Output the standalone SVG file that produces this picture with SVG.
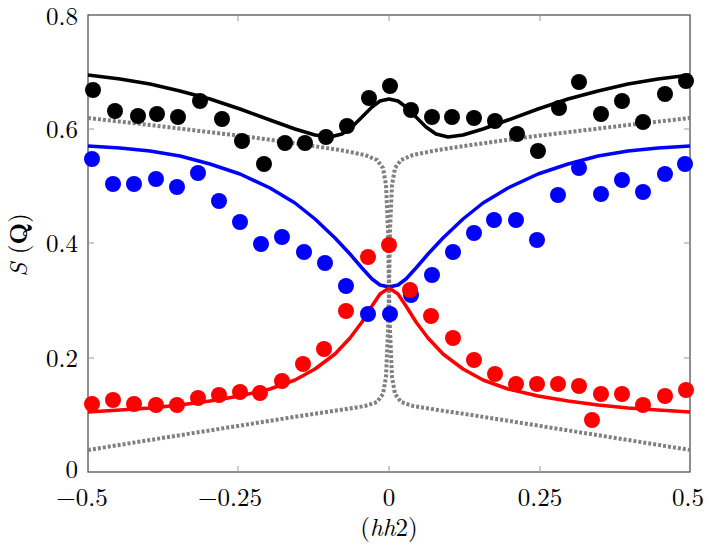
<svg xmlns="http://www.w3.org/2000/svg" width="712" height="547" viewBox="0 0 712 547">
<style>
.t{font-family:"Latin Modern Roman","Liberation Serif",serif;font-size:25px;fill:#000}
.c{fill:none;stroke-width:3.5;stroke-linejoin:round}
.g{fill:none;stroke:#808080;stroke-width:4;stroke-dasharray:3,2}
.tk{stroke:#999;stroke-width:1}
</style>
<rect width="712" height="547" fill="#fff"/>
<g id="axes">
<rect x="88" y="15" width="602" height="457" fill="none" stroke="#444" stroke-width="1.2"/>
<path class="tk" d="M238 472v-6M389 472v-6M540 472v-6M238 15v6M389 15v6M540 15v6M88 358h6M88 243h6M88 129h6M690 358h-6M690 243h-6M690 129h-6"/>
<g class="t" text-anchor="middle">
<text x="82" y="506">−0.5</text><text x="230" y="506">−0.25</text><text x="389" y="506">0</text><text x="540" y="506">0.25</text><text x="688" y="506">0.5</text>
<text x="389" y="536">(<tspan font-style="italic">hh</tspan>2)</text>
</g>
<g class="t" text-anchor="end">
<text x="78" y="478">0</text><text x="78" y="367">0.2</text><text x="78" y="252">0.4</text><text x="78" y="138">0.6</text><text x="78" y="25">0.8</text>
</g>
<text class="t" transform="translate(27,245) rotate(-90)" text-anchor="middle"><tspan font-style="italic">S</tspan> (<tspan font-weight="bold">Q</tspan>)</text>
</g>
<g id="connectors">
<polyline class="g" points="88,118 150,125 200,131 250,137 300,144 340,150 365,155 377,160 383,168 386,185 388,230 389,290 390,330 392,377 395,394 401,402 413,406 438,410 478,416 528,424 578,432 628,440 690,450"/>
<polyline class="g" points="88,450 150,440 200,432 250,424 300,416 340,410 365,406 377,402 383,394 386,377 388,330 389,290 390,230 392,185 395,168 401,160 413,155 438,150 478,144 528,137 578,131 628,125 690,118"/>
<polyline class="c" stroke="#000" points="88,75 120,79 150,84 180,91 210,99 240,109 270,120 295,129 315,135 330,137 342,134 352,127 362,117 372,107 380,101 389,99 398,101 406,107 416,117 426,127 436,134 448,137 463,135 483,129 508,120 538,109 568,99 598,91 628,84 658,79 690,75"/>
<polyline class="c" stroke="#00f" points="88,146 120,148 150,151 180,156 210,164 240,174 270,188 295,203 315,219 335,238 350,254 362,268 372,279 380,285 389,287 398,285 406,279 416,268 428,254 443,238 463,219 483,203 508,188 538,174 568,164 598,156 628,151 658,148 690,146"/>
<polyline class="c" stroke="#f00" points="88,412 120,410 150,408 180,405 210,401 240,396 270,389 295,380 315,369 335,354 350,338 362,322 372,306 380,294 389,288 398,294 406,306 416,322 428,338 443,354 463,369 483,380 508,389 538,396 568,401 598,405 628,408 658,410 690,412"/>
</g>
<g id="black" fill="#000">
<circle cx="93" cy="90" r="8"/><circle cx="115" cy="111" r="8"/><circle cx="138" cy="116" r="8"/><circle cx="157" cy="114" r="8"/><circle cx="178" cy="117" r="8"/><circle cx="200" cy="101" r="8"/><circle cx="222" cy="119" r="8"/><circle cx="242" cy="141" r="8"/><circle cx="264" cy="164" r="8"/><circle cx="285" cy="143" r="8"/><circle cx="305" cy="143" r="8"/><circle cx="326" cy="137" r="8"/><circle cx="347" cy="126" r="8"/><circle cx="369" cy="98" r="8"/><circle cx="390" cy="86" r="8"/><circle cx="411" cy="110" r="8"/><circle cx="432" cy="117" r="8"/><circle cx="452" cy="117" r="8"/><circle cx="474" cy="118" r="8"/><circle cx="495" cy="121" r="8"/><circle cx="517" cy="134" r="8"/><circle cx="538" cy="151" r="8"/><circle cx="559" cy="108" r="8"/><circle cx="579" cy="82" r="8"/><circle cx="601" cy="114" r="8"/><circle cx="622" cy="101" r="8"/><circle cx="643" cy="122" r="8"/><circle cx="665" cy="94" r="8"/><circle cx="686" cy="81" r="8"/>
</g>
<g id="blue" fill="#00f">
<circle cx="92" cy="159" r="8"/><circle cx="113" cy="184" r="8"/><circle cx="134" cy="184" r="8"/><circle cx="156" cy="179" r="8"/><circle cx="177" cy="187" r="8"/><circle cx="198" cy="173" r="8"/><circle cx="219" cy="201" r="8"/><circle cx="240" cy="222" r="8"/><circle cx="261" cy="244" r="8"/><circle cx="282" cy="237" r="8"/><circle cx="304" cy="252" r="8"/><circle cx="325" cy="263" r="8"/><circle cx="346" cy="286" r="8"/><circle cx="368" cy="314" r="8"/><circle cx="390" cy="314" r="8"/><circle cx="411" cy="295" r="8"/><circle cx="432" cy="275" r="8"/><circle cx="453" cy="252" r="8"/><circle cx="474" cy="233" r="8"/><circle cx="494" cy="220" r="8"/><circle cx="516" cy="220" r="8"/><circle cx="537" cy="240" r="8"/><circle cx="558" cy="195" r="8"/><circle cx="579" cy="168" r="8"/><circle cx="601" cy="194" r="8"/><circle cx="622" cy="180" r="8"/><circle cx="643" cy="192" r="8"/><circle cx="665" cy="174" r="8"/><circle cx="685" cy="164" r="8"/>
</g>
<g id="red" fill="#f00">
<circle cx="92" cy="404" r="8"/><circle cx="113" cy="400" r="8"/><circle cx="134" cy="404" r="8"/><circle cx="156" cy="405" r="8"/><circle cx="177" cy="405" r="8"/><circle cx="198" cy="398" r="8"/><circle cx="219" cy="395" r="8"/><circle cx="240" cy="392" r="8"/><circle cx="260" cy="393" r="8"/><circle cx="282" cy="381" r="8"/><circle cx="303" cy="364" r="8"/><circle cx="324" cy="349" r="8"/><circle cx="346" cy="311" r="8"/><circle cx="368" cy="257" r="8"/><circle cx="389" cy="245" r="8"/><circle cx="410" cy="290" r="8"/><circle cx="431" cy="316" r="8"/><circle cx="453" cy="338" r="8"/><circle cx="474" cy="360" r="8"/><circle cx="495" cy="374" r="8"/><circle cx="516" cy="384" r="8"/><circle cx="537" cy="384" r="8"/><circle cx="558" cy="384" r="8"/><circle cx="579" cy="386" r="8"/><circle cx="592" cy="420" r="8"/><circle cx="601" cy="394" r="8"/><circle cx="622" cy="394" r="8"/><circle cx="643" cy="405" r="8"/><circle cx="665" cy="396" r="8"/><circle cx="686" cy="390" r="8"/>
</g>
</svg>
